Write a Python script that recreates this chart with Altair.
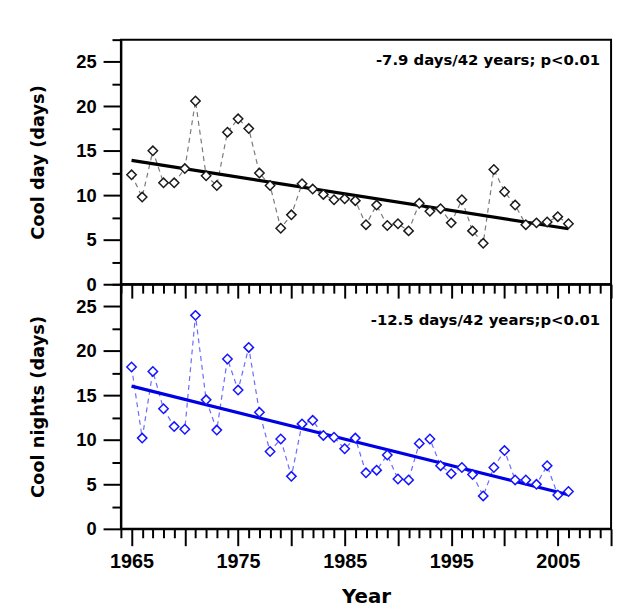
import altair as alt
import pandas as pd

years = list(range(1965, 2007))
cool_days = [12.3, 9.8, 15.0, 11.4, 11.4, 13.0, 20.6, 12.2, 11.1, 17.1, 18.6, 17.5,
             12.5, 11.1, 6.3, 7.8, 11.3, 10.7, 10.1, 9.5, 9.6, 9.4, 6.7, 8.9, 6.6,
             6.8, 6.0, 9.1, 8.2, 8.5, 6.9, 9.5, 6.0, 4.6, 12.9, 10.4, 8.9, 6.7, 6.9,
             7.0, 7.6, 6.8]
cool_nights = [18.2, 10.2, 17.7, 13.5, 11.5, 11.2, 24.0, 14.5, 11.1, 19.1, 15.6, 20.4,
               13.1, 8.7, 10.1, 5.9, 11.8, 12.2, 10.5, 10.3, 9.0, 10.2, 6.3, 6.6, 8.3,
               5.6, 5.5, 9.6, 10.1, 7.1, 6.2, 6.9, 6.1, 3.7, 6.9, 8.8, 5.5, 5.5, 5.0,
               7.1, 3.8, 4.2]
x_ticks = list(range(1964, 2011))
y_ticks = [0, 2.5, 5, 7.5, 10, 12.5, 15, 17.5, 20, 22.5, 25, 27.5]
notes = ["-7.9 days/42 years; p<0.01", "-12.5 days/42 years;p<0.01"]
y_titles = ["Cool day (days)", "Cool nights (days)"]

W, H = 495, 247


def y_axis(title):
    return alt.Axis(
        values=y_ticks, title=title,
        labelExpr="datum.value % 5 === 0 ? datum.label : ''",
        tickSize={"condition": {"test": "datum.value % 5 === 0", "value": 18}, "value": 9},
        labelPadding=7, labelFontSize=18.5, titleFontSize=18, titlePadding=29,
        labelOverlap=False,
    )


top_x_axis = alt.Axis(
    values=x_ticks, labels=False, title=None,
    tickSize={"condition": {"test": "datum.value % 5 === 0", "value": 14}, "value": 9},
)
bottom_x_axis = alt.Axis(
    values=x_ticks, title="Year", format="d",
    labelExpr="datum.value % 10 === 5 ? datum.label : ''",
    tickSize={"condition": {"test": "datum.value % 5 === 0", "value": 17}, "value": 9},
    labelPadding=6, labelFontSize=20, titleFontSize=20, titlePadding=15,
    labelOverlap=False, labelFlush=False,
)


def panel(values, ytitle, note, note_y, x_axis, point_color, dash_color, trend_color):
    df = pd.DataFrame({"year": years, "value": values})
    base = alt.Chart(df).encode(
        x=alt.X("year:Q", scale=alt.Scale(domain=[1964, 2010], nice=False, zero=False), axis=x_axis),
        y=alt.Y("value:Q", scale=alt.Scale(domain=[0, 27.5], nice=False, zero=False), axis=y_axis(ytitle)),
    )
    dashed = base.mark_line(color=dash_color, strokeDash=[5, 4], strokeWidth=1.2)
    trend = base.transform_regression("year", "value").mark_line(color=trend_color, strokeWidth=3.2)
    pts = base.mark_point(shape="diamond", size=90, filled=False, fill="white", fillOpacity=1,
                          stroke=point_color, strokeWidth=1.5, opacity=1)
    txt = alt.Chart(pd.DataFrame({"t": [note]})).mark_text(
        align="right", baseline="alphabetic", font="DejaVu Sans", fontWeight="bold",
        fontSize=15, color="black",
    ).encode(x=alt.value(W - 11), y=alt.value(note_y), text="t:N")
    return alt.layer(dashed, trend, pts, txt).properties(width=W, height=H)


top = panel(cool_days, y_titles[0], notes[0], 26, top_x_axis, "#1a1a1a", "#7a7a7a", "#000000")
bottom = panel(cool_nights, y_titles[1], notes[1], 41, bottom_x_axis, "#1414ff", "#6b6bff", "#0000e6")

chart = alt.vconcat(top, bottom, spacing=0, bounds="flush").properties(
    padding={"left": 20, "top": 19, "right": 5, "bottom": 0},
    background="white",
).configure_axis(
    domainColor="black", domainWidth=2, tickColor="black", tickWidth=2,
    labelColor="black", labelFont="Liberation Sans", labelFontWeight="bold",
    titleFont="DejaVu Sans", titleFontWeight="bold", titleColor="black", grid=False,
).configure_view(stroke="black", strokeWidth=2)

chart.save("out.html", embed_options={"renderer": "svg", "actions": False})
